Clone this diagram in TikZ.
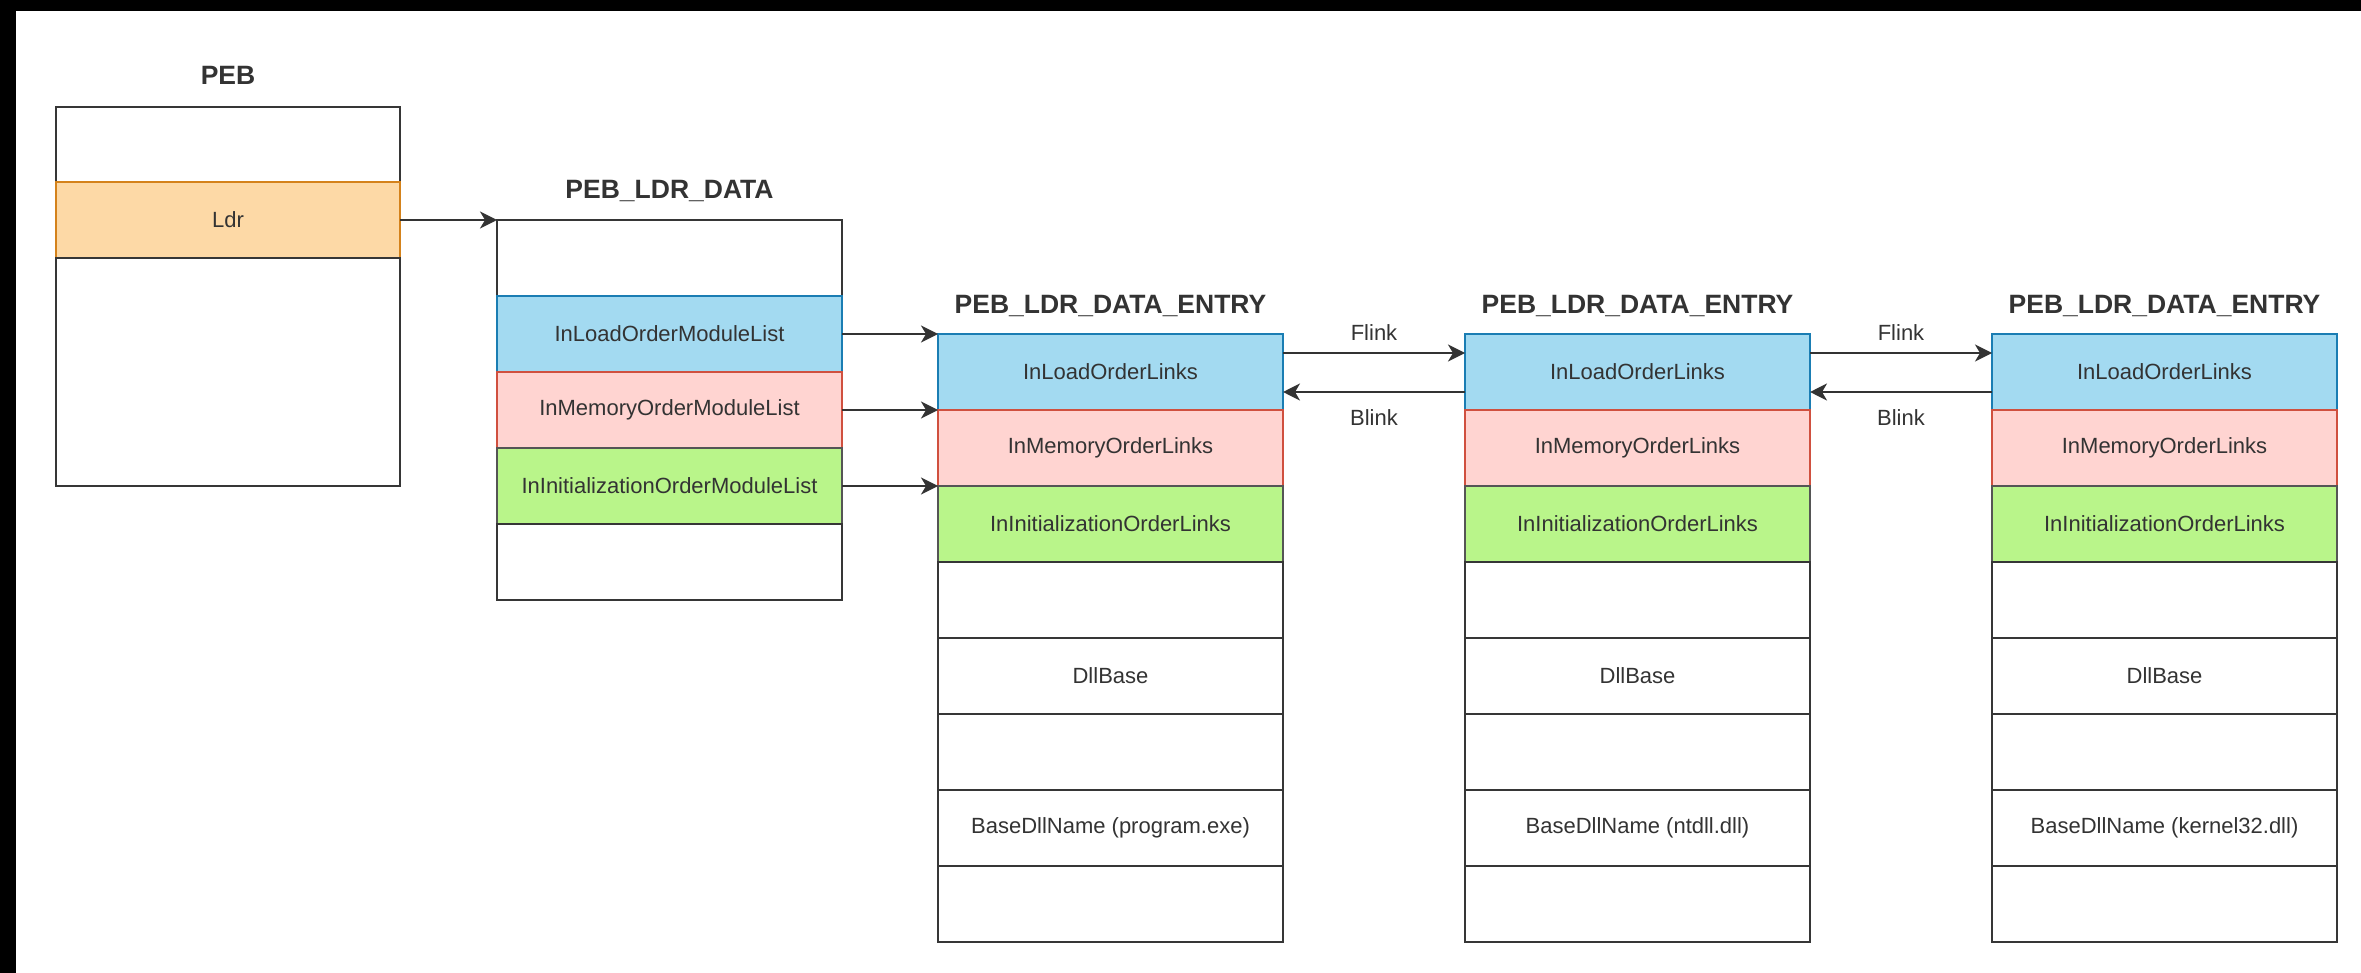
\documentclass[tikz,border=0pt]{standalone}
\usepackage{fontspec}
\setmainfont{Liberation Sans}
\usetikzlibrary{arrows.meta,calc}

\definecolor{ink}{HTML}{333333}
\definecolor{boxline}{HTML}{363636}
\definecolor{bluefill}{HTML}{A3DAF1}
\definecolor{blueline}{HTML}{1A7DB3}
\definecolor{redfill}{HTML}{FFD4D1}
\definecolor{redline}{HTML}{D0503F}
\definecolor{greenfill}{HTML}{B9F58A}
\definecolor{greenline}{HTML}{555555}
\definecolor{orangefill}{HTML}{FDD9A6}
\definecolor{orangeline}{HTML}{D4821B}

\tikzset{
  cell/.style={draw=boxline, fill=white, line width=2pt, minimum width=345pt,
    minimum height=76pt, inner sep=0pt, outer sep=0pt, anchor=north west,
    text=ink, font=\fontsize{22}{26}\selectfont},
  loadcell/.style={cell, fill=bluefill, draw=blueline},
  memcell/.style={cell, fill=redfill, draw=redline},
  initcell/.style={cell, fill=greenfill, draw=greenline},
  ldrcell/.style={cell, fill=orangefill, draw=orangeline},
  heading/.style={text=ink, font=\fontsize{26.5}{30}\selectfont\bfseries, inner sep=0pt},
  linklabel/.style={text=ink, font=\fontsize{22}{26}\selectfont, inner sep=0pt},
  ptr/.style={draw=ink, line width=2pt, -{Stealth[length=17pt,width=17pt,inset=5pt]}}
}

\begin{document}
\begin{tikzpicture}[x=1pt,y=-1pt]
  \useasboundingbox (0,0) rectangle (2361,973);
  \fill[white] (0,0) rectangle (2361,973);
  % dark frame strips
  \fill[black] (0,0) rectangle (2361,11);
  \fill[black] (0,0) rectangle (16,973);

  % PEB
  \node[cell, minimum width=344pt, minimum height=75pt] (peb0) at (56,107) {};
  \node[ldrcell, minimum width=344pt] (ldr) at (peb0.south west) {Ldr};
  \node[cell, minimum width=344pt, minimum height=228pt] (peb2) at (ldr.south west) {};
  \node[heading] at ([yshift=32pt]peb0.north) {PEB};

  % PEB_LDR_DATA
  \node[cell] (d0) at (497,220) {};
  \node[loadcell] (dload) at (d0.south west) {InLoadOrderModuleList};
  \node[memcell] (dmem) at (dload.south west) {InMemoryOrderModuleList};
  \node[initcell] (dinit) at (dmem.south west) {InInitializationOrderModuleList};
  \node[cell] (d4) at (dinit.south west) {};
  \node[heading] at ([yshift=29pt]d0.north) {PEB\_LDR\_DATA};

  % PEB_LDR_DATA_ENTRY records
  \foreach \k/\x/\name in {1/938/program.exe, 2/1465/ntdll.dll, 3/1992/kernel32.dll}{
    \node[loadcell] (e\k load) at (\x,334) {InLoadOrderLinks};
    \node[memcell] (e\k mem) at (e\k load.south west) {InMemoryOrderLinks};
    \node[initcell] (e\k init) at (e\k mem.south west) {InInitializationOrderLinks};
    \node[cell] (e\k r4) at (e\k init.south west) {};
    \node[cell] (e\k base) at (e\k r4.south west) {DllBase};
    \node[cell] (e\k r6) at (e\k base.south west) {};
    \node[cell] (e\k name) at (e\k r6.south west) {BaseDllName (\name)};
    \node[cell] (e\k r8) at (e\k name.south west) {};
    \node[heading] at ([yshift=28pt]e\k load.north) {PEB\_LDR\_DATA\_ENTRY};
  }

  % Ldr pointer
  \draw[ptr] (ldr.east) -- (ldr.east -| d0.west);

  % list heads into the first entry
  \draw[ptr] (dload.east) -- (dload.east -| e1load.west);
  \draw[ptr] (dmem.east) -- (dmem.east -| e1load.west);
  \draw[ptr] (dinit.east) -- (dinit.east -| e1load.west);

  % forward and backward links
  \foreach \a/\b in {1/2, 2/3}{
    \draw[ptr] ([yshift=19pt]e\a load.east) -- ([yshift=19pt]e\b load.west)
      node[linklabel, midway, yshift=20pt] {Flink};
    \draw[ptr] ([yshift=-20pt]e\b load.west) -- ([yshift=-20pt]e\a load.east)
      node[linklabel, midway, yshift=-26pt] {Blink};
  }
\end{tikzpicture}
\end{document}
